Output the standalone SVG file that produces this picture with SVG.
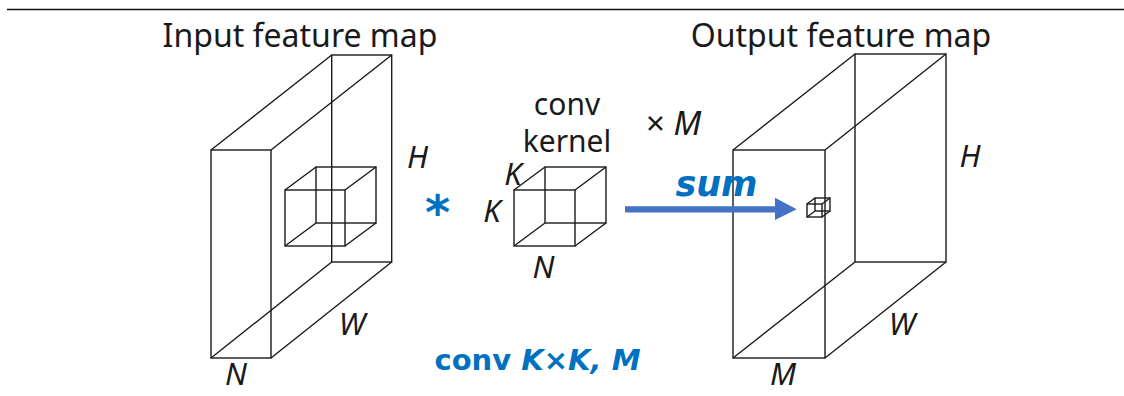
<svg xmlns="http://www.w3.org/2000/svg" width="1124" height="396" viewBox="0 0 1124 396">
<style>
.e{fill:none;stroke:#1a1a1a;stroke-width:1.4}
.t{font-family:"Noto Sans","DejaVu Sans",sans-serif;fill:#1a1a1a}
.i{font-family:"Noto Sans","DejaVu Sans",sans-serif;font-style:italic;fill:#1a1a1a;font-size:31px;text-anchor:middle}
.b{font-family:"DejaVu Sans","Noto Sans",sans-serif;font-weight:bold;fill:#0070C0}
</style>
<rect width="1124" height="396" fill="#fff"/>
<line x1="7" y1="9.5" x2="1124" y2="9.5" stroke="#111" stroke-width="1.6"/>
<g id="input-map">
<text class="t" x="300" y="47" font-size="32" text-anchor="middle">Input feature map</text>
<rect class="e" x="331.7" y="55" width="60" height="207"/>
<rect class="e" x="211" y="150" width="60" height="208"/>
<path class="e" d="M211 150L331.7 55M271 150L391.7 55M211 358L331.7 262M271 358L391.7 262"/>
<g id="input-window">
<rect class="e" x="316" y="167" width="60" height="56"/>
<rect class="e" x="285" y="190" width="60" height="56"/>
<path class="e" d="M285 190L316 167M345 190L376 167M285 246L316 223M345 246L376 223"/>
</g>
<text class="i" x="417.5" y="168">H</text>
<text class="i" x="352" y="335">W</text>
<text class="i" x="236" y="385">N</text>
</g>
<g id="operator">
<text class="b" x="437.5" y="229" font-size="48" text-anchor="middle">*</text>
</g>
<g id="kernel">
<text class="t" x="567" y="115" font-size="30" text-anchor="middle">conv</text>
<text class="t" x="567" y="152" font-size="30" text-anchor="middle">kernel</text>
<rect class="e" x="545" y="167" width="61" height="56"/>
<rect class="e" x="514" y="190" width="61" height="56"/>
<path class="e" d="M514 190L545 167M575 190L606 167M514 246L545 223M575 246L606 223"/>
<text class="i" x="513" y="185">K</text>
<text class="i" x="492" y="222">K</text>
<text class="i" x="543.5" y="278">N</text>
<text class="t" x="646" y="135" font-size="33">× <tspan font-style="italic">M</tspan></text>
</g>
<g id="output-map">
<text class="t" x="841" y="47" font-size="32" text-anchor="middle">Output feature map</text>
<rect class="e" x="855" y="54" width="91" height="208"/>
<rect class="e" x="733" y="150" width="92" height="208"/>
<path class="e" d="M733 150L855 54M825 150L946 54M733 358L855 262M825 358L946 262"/>
<g id="output-pixel">
<rect class="e" x="815" y="198" width="15" height="13"/>
<rect class="e" x="807" y="204" width="15" height="13"/>
<path class="e" d="M807 204L815 198M822 204L830 198M807 217L815 211M822 217L830 211"/>
</g>
<text class="i" x="970" y="167">H</text>
<text class="i" x="902" y="335">W</text>
<text class="i" x="783" y="385">M</text>
</g>
<g id="connectors">
<path d="M625 206.2H775V197.7L796.7 209.3L775 220V212.6H625Z" fill="#4472C4"/>
<text class="b" x="716.5" y="196" font-size="35" font-style="italic" text-anchor="middle">sum</text>
</g>
<text class="b" x="537.5" y="370" font-size="29" text-anchor="middle">conv <tspan font-style="italic">K</tspan>×<tspan font-style="italic">K, M</tspan></text>
</svg>
